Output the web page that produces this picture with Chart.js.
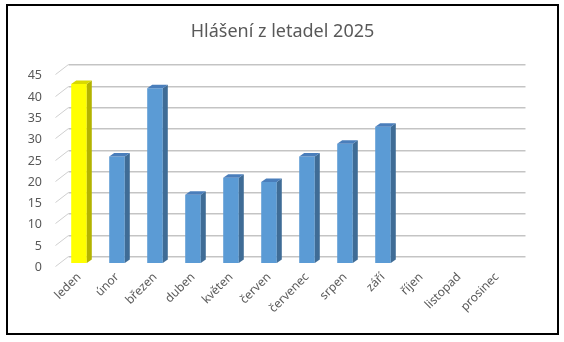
<!DOCTYPE html>
<html>
<head>
<meta charset="utf-8">
<script src="https://cdn.jsdelivr.net/npm/chart.js"></script>
<style>
  html, body { margin: 0; padding: 0; background: #fff; }
  #box { position: absolute; left: 6px; top: 4px; width: 549px; height: 327px; border: 2px solid #000; }
</style>
</head>
<body>
<div id="box"><canvas id="chart"></canvas></div>

<script>
  const months = ['leden', 'únor', 'březen', 'duben', 'květen', 'červen', 'červenec', 'srpen', 'září', 'říjen', 'listopad', 'prosinec'];
  const reports = [42, 25, 41, 16, 20, 19, 25, 28, 32, null, null, null];
  const yTicks = [0, 5, 10, 15, 20, 25, 30, 35, 40, 45];

  const frontColors = months.map((m, i) => i === 0 ? '#ffff00' : '#5b9bd5');
  const topColors = months.map((m, i) => i === 0 ? '#d9d900' : '#4a7ebb');
  const sideColors = months.map((m, i) => i === 0 ? '#b3b300' : '#3f6c96');

  // back wall gridlines, shifted into depth
  const backWall = {
    id: 'backWall',
    beforeDatasetsDraw(chart) {
      const { ctx, chartArea } = chart;
      const y = chart.scales.y;
      ctx.save();
      yTicks.forEach(v => {
        const py = Math.round(y.getPixelForValue(v) - 7) + 0.5;
        ctx.strokeStyle = '#c4c4c4';
        ctx.lineWidth = 1;
        ctx.beginPath();
        ctx.moveTo(chartArea.left + 8.5, py);
        ctx.lineTo(chartArea.right + 9.5, py);
        ctx.stroke();
        ctx.strokeStyle = '#e2e2e2';
        ctx.beginPath();
        ctx.moveTo(chartArea.left + 8.5, py + 1);
        ctx.lineTo(chartArea.right + 9.5, py + 1);
        ctx.stroke();
        // side wall tick
        ctx.strokeStyle = '#cfcfcf';
        ctx.beginPath();
        ctx.moveTo(chartArea.left - 4.5, py + 10);
        ctx.lineTo(chartArea.left + 8.5, py);
        ctx.stroke();
      });
      ctx.restore();
    }
  };

  // side and top faces of the bars
  const bars3d = {
    id: 'bars3d',
    afterDatasetsDraw(chart) {
      const { ctx } = chart;
      const dx = 5, dy = 3.5;
      chart.getDatasetMeta(0).data.forEach((bar, i) => {
        if (reports[i] == null) return;
        const p = bar.getProps(['x', 'y', 'base', 'width'], true);
        const l = p.x - p.width / 2, r = p.x + p.width / 2;
        ctx.save();
        ctx.fillStyle = sideColors[i];
        ctx.beginPath();
        ctx.moveTo(r, p.base);
        ctx.lineTo(r, p.y);
        ctx.lineTo(r + dx, p.y - dy);
        ctx.lineTo(r + dx, p.base - dy);
        ctx.closePath();
        ctx.fill();
        ctx.fillStyle = topColors[i];
        ctx.beginPath();
        ctx.moveTo(l, p.y);
        ctx.lineTo(r, p.y);
        ctx.lineTo(r + dx, p.y - dy);
        ctx.lineTo(l + dx, p.y - dy);
        ctx.closePath();
        ctx.fill();
        ctx.restore();
      });
    }
  };

  new Chart(document.getElementById('chart'), {
    type: 'bar',
    data: {
      labels: months,
      datasets: [{
        data: reports,
        backgroundColor: frontColors,
        borderWidth: 0,
        barPercentage: 0.41,
        categoryPercentage: 1
      }]
    },
    options: {
      responsive: true,
      maintainAspectRatio: false,
      animation: false,
      layout: { padding: 0 },
      plugins: {
        legend: { display: false },
        tooltip: { enabled: false },
        title: {
          display: true,
          text: 'Hlášení z letadel 2025',
          color: '#595959',
          font: { family: 'Noto Sans', size: 18, weight: 'normal' },
          padding: { top: 15, bottom: 28.7 }
        }
      },
      scales: {
        x: {
          grid: { display: false },
          border: { display: false },
          ticks: {
            color: '#595959',
            font: { family: 'Noto Sans', size: 12 },
            maxRotation: 45,
            minRotation: 45,
            padding: -1
          },
          afterFit(scale) { scale.height = 70; }
        },
        y: {
          min: 0,
          max: 45,
          grid: { display: false },
          border: { display: false },
          ticks: {
            stepSize: 5,
            color: '#595959',
            font: { family: 'Noto Sans', size: 12.5 },
            padding: 10,
            labelOffset: 4.5
          },
          afterFit(scale) { scale.width = 52; }
        },
        // empty right-hand space, keeps the title centred on the whole frame
        yRight: {
          position: 'right',
          grid: { display: false },
          border: { display: false },
          ticks: { display: false },
          afterFit(scale) { scale.width = 41; }
        }
      }
    },
    plugins: [backWall, bars3d]
  });
</script>
</body>
</html>
